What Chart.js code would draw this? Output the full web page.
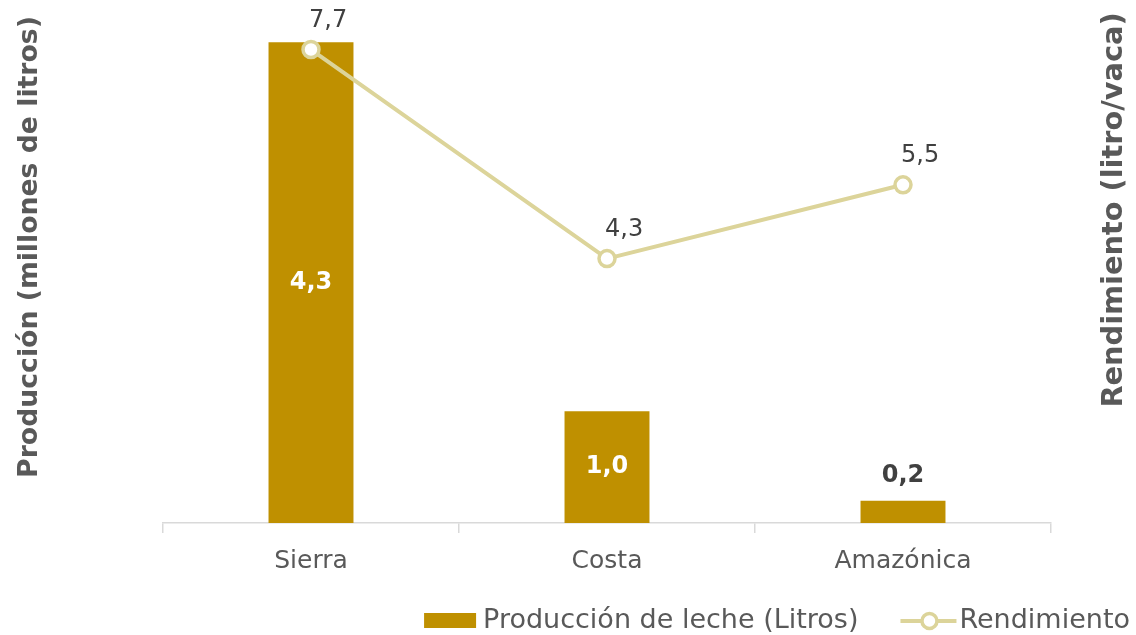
<!DOCTYPE html>
<html>
<head>
<meta charset="utf-8">
<script src="https://cdn.jsdelivr.net/npm/chart.js@4.4.1/dist/chart.umd.min.js"></script>
<style>
  html, body { margin: 0; padding: 0; background: #fff; }
  #wrap { position: relative; width: 1136px; height: 635px; }
</style>
</head>
<body>
<div id="wrap"><canvas id="chart" width="1136" height="635"></canvas></div>
<script>
// Data
const categories = ["Sierra", "Costa", "Amazónica"];
const produccion = [4.3, 1.0, 0.2];
const rendimiento = [7.7, 4.3, 5.5];
const seriesNames = ["Producción de leche (Litros)", "Rendimiento"];
const leftTitle = "Producción (millones de litros)";
const rightTitle = "Rendimiento (litro/vaca)";

const FONT = "'DejaVu Sans', sans-serif";
const barColor = "#BF9000";
const lineColor = "#DCD49A";
const grayText = "#595959";
const darkText = "#404040";

const fmt = v => v.toFixed(1).replace(".", ",");

// pick a font size so the text spans roughly the given width
function fitFont(ctx, text, weight, target) {
    ctx.font = weight + " 20px " + FONT;
    const size = 20 * target / ctx.measureText(text).width;
    return weight + " " + size.toFixed(1) + "px " + FONT;
}

// Value labels on bars and points
const valueLabels = {
    id: "valueLabels",
    afterDatasetsDraw(chart) {
        const ctx = chart.ctx;
        ctx.save();
        ctx.textBaseline = "middle";

        const barMeta = chart.getDatasetMeta(0);
        barMeta.data.forEach((bar, i) => {
            const h = bar.base - bar.y;
            ctx.font = "bold 24px " + FONT;
            ctx.textAlign = "center";
            if (h > 50) {
                ctx.fillStyle = "#ffffff";
                ctx.fillText(fmt(produccion[i]), bar.x, (bar.y + bar.base) / 2);
            } else {
                ctx.fillStyle = darkText;
                ctx.fillText(fmt(produccion[i]), bar.x, bar.y - 25);
            }
        });

        const lineMeta = chart.getDatasetMeta(1);
        lineMeta.data.forEach((pt, i) => {
            ctx.font = "24px " + FONT;
            ctx.textAlign = "left";
            ctx.fillStyle = darkText;
            ctx.fillText(fmt(rendimiento[i]), pt.x - 2, pt.y - 29);
        });
        ctx.restore();
    }
};

// Axis titles and legend
const extras = {
    id: "extras",
    afterDraw(chart) {
        const ctx = chart.ctx;
        ctx.save();
        ctx.fillStyle = grayText;
        ctx.textAlign = "center";
        ctx.textBaseline = "middle";

        ctx.save();
        ctx.font = fitFont(ctx, leftTitle, "bold", 462);
        ctx.translate(30, 247);
        ctx.rotate(-Math.PI / 2);
        ctx.fillText(leftTitle, 0, 0);
        ctx.restore();

        ctx.save();
        ctx.font = fitFont(ctx, rightTitle, "bold", 395);
        ctx.translate(1115, 210);
        ctx.rotate(-Math.PI / 2);
        ctx.fillText(rightTitle, 0, 0);
        ctx.restore();

        // legend, laid out from the right edge
        const y = 621;
        ctx.font = "27px " + FONT;
        ctx.textAlign = "left";
        const w2 = ctx.measureText(seriesNames[1]).width;
        const w1 = ctx.measureText(seriesNames[0]).width;
        let x = chart.width - 6 - w2;
        ctx.fillText(seriesNames[1], x, y);
        // line symbol
        x -= 3;
        ctx.strokeStyle = lineColor;
        ctx.lineWidth = 4;
        ctx.beginPath();
        ctx.moveTo(x - 56, y);
        ctx.lineTo(x, y);
        ctx.stroke();
        ctx.beginPath();
        ctx.arc(x - 27, y, 7.5, 0, Math.PI * 2);
        ctx.fillStyle = "#ffffff";
        ctx.fill();
        ctx.lineWidth = 3.5;
        ctx.stroke();
        x -= 56 + 42;
        ctx.fillStyle = grayText;
        ctx.fillText(seriesNames[0], x - w1, y);
        x -= w1 + 7;
        ctx.fillStyle = barColor;
        ctx.fillRect(x - 52, y - 8, 52, 15);
        ctx.restore();
    }
};

const ctx = document.getElementById("chart").getContext("2d");
const chart = new Chart(ctx, {
    type: "bar",
    data: {
        labels: categories,
        datasets: [
            {
                type: "bar",
                label: seriesNames[0],
                data: produccion,
                backgroundColor: barColor,
                yAxisID: "y",
                categoryPercentage: 1,
                barPercentage: 0.287,
                order: 1
            },
            {
                type: "line",
                label: seriesNames[1],
                data: rendimiento,
                borderColor: lineColor,
                borderWidth: 4,
                pointRadius: 8,
                pointBorderWidth: 3.5,
                pointBackgroundColor: "#ffffff",
                pointBorderColor: lineColor,
                yAxisID: "y1",
                tension: 0,
                order: 0
            }
        ]
    },
    options: {
        responsive: false,
        animation: false,
        layout: { padding: { left: 163, right: 85, top: 20, bottom: 0 } },
        plugins: {
            legend: { display: false },
            tooltip: { enabled: false }
        },
        scales: {
            x: {
                grid: {
                    offset: true,
                    drawOnChartArea: false,
                    drawTicks: true,
                    tickLength: 10,
                    color: "#D9D9D9",
                    lineWidth: 1.5
                },
                border: { color: "#D9D9D9", width: 1.5 },
                ticks: { color: grayText, font: { family: FONT, size: 25 }, padding: 13 },
                afterFit: s => { s.height = 112; }
            },
            y: { display: false, min: 0, max: 4.5 },
            y1: { display: false, position: "right", min: 0, max: 8.18 }
        }
    },
    plugins: [valueLabels, extras]
});
</script>
</body>
</html>
